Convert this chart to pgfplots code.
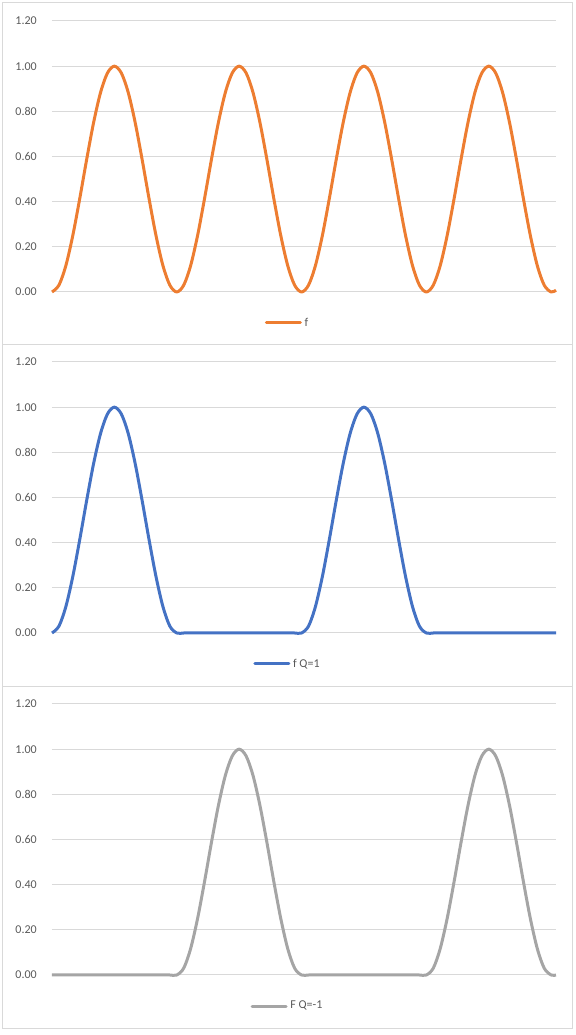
\documentclass[border=0pt]{standalone}
\usepackage{pgfplots}
\usepackage{pgfplotstable}
\pgfplotsset{compat=1.18}
\usepackage{fontspec}
\setmainfont{Carlito}
\definecolor{cOrange}{HTML}{ED7D31}
\definecolor{cBlue}{HTML}{4472C4}
\definecolor{cGray}{HTML}{A5A5A5}
\definecolor{cGrid}{HTML}{D9D9D9}
\definecolor{cText}{HTML}{595959}

\pgfplotstableread{
x f q1 qm1
0 0 0 0
10 0.0302 0.0302 0
20 0.1170 0.1170 0
30 0.2500 0.2500 0
40 0.4132 0.4132 0
50 0.5868 0.5868 0
60 0.7500 0.7500 0
70 0.8830 0.8830 0
80 0.9698 0.9698 0
90 1.0000 1.0000 0
100 0.9698 0.9698 0
110 0.8830 0.8830 0
120 0.7500 0.7500 0
130 0.5868 0.5868 0
140 0.4132 0.4132 0
150 0.2500 0.2500 0
160 0.1170 0.1170 0
170 0.0302 0.0302 0
180 0 0 0
190 0.0302 0 0.0302
200 0.1170 0 0.1170
210 0.2500 0 0.2500
220 0.4132 0 0.4132
230 0.5868 0 0.5868
240 0.7500 0 0.7500
250 0.8830 0 0.8830
260 0.9698 0 0.9698
270 1.0000 0 1.0000
280 0.9698 0 0.9698
290 0.8830 0 0.8830
300 0.7500 0 0.7500
310 0.5868 0 0.5868
320 0.4132 0 0.4132
330 0.2500 0 0.2500
340 0.1170 0 0.1170
350 0.0302 0 0.0302
360 0 0 0
370 0.0302 0.0302 0
380 0.1170 0.1170 0
390 0.2500 0.2500 0
400 0.4132 0.4132 0
410 0.5868 0.5868 0
420 0.7500 0.7500 0
430 0.8830 0.8830 0
440 0.9698 0.9698 0
450 1.0000 1.0000 0
460 0.9698 0.9698 0
470 0.8830 0.8830 0
480 0.7500 0.7500 0
490 0.5868 0.5868 0
500 0.4132 0.4132 0
510 0.2500 0.2500 0
520 0.1170 0.1170 0
530 0.0302 0.0302 0
540 0 0 0
550 0.0302 0 0.0302
560 0.1170 0 0.1170
570 0.2500 0 0.2500
580 0.4132 0 0.4132
590 0.5868 0 0.5868
600 0.7500 0 0.7500
610 0.8830 0 0.8830
620 0.9698 0 0.9698
630 1.0000 0 1.0000
640 0.9698 0 0.9698
650 0.8830 0 0.8830
660 0.7500 0 0.7500
670 0.5868 0 0.5868
680 0.4132 0 0.4132
690 0.2500 0 0.2500
700 0.1170 0 0.1170
710 0.0302 0 0.0302
720 0 0 0
727 0.0080 0 0
}\datatable

\pgfplotsset{
  panel/.style={
    scale only axis,
    width=378pt, height=203.25pt,
    anchor=south west,
    xmin=0, xmax=727, ymin=0, ymax=1.2,
    xtick=\empty,
    ytick={0,0.2,0.4,0.6,0.8,1.0,1.2},
    ymajorgrids,
    major grid style={draw=cGrid, line width=0.75pt},
    axis line style={draw=none},
    tick style={draw=none},
    clip=false,
    /pgf/number format/assume math mode=true,
    yticklabel style={font=\fontsize{9}{11}\selectfont, text=cText, anchor=east, inner sep=0pt, xshift=-11.25pt,
      /pgf/number format/.cd, fixed, fixed zerofill, precision=2},
    legend style={draw=none, fill=none, at={(0.468,-0.1144)}, anchor=center,
      font=\fontsize{9}{11}\selectfont, text=cText, inner sep=0pt},
    legend image code/.code={\draw[#1, line width=2.25pt, line cap=round] (0pt,0pt) -- (25.5pt,0pt);},
    every axis plot/.append style={line width=2.25pt, line join=round, smooth, tension=0.5},
  }
}

\begin{document}
\begin{tikzpicture}
\useasboundingbox (0,0) rectangle (431.25pt,776.25pt);
\draw[cGrid, line width=0.75pt] (1.5pt,774pt) rectangle (429pt,517.7pt);
\draw[cGrid, line width=0.75pt] (1.5pt,517.7pt) rectangle (429pt,261.4pt);
\draw[cGrid, line width=0.75pt] (1.5pt,261.4pt) rectangle (429pt,4.5pt);

\begin{axis}[panel, at={(39pt,557.25pt)}]
\addplot[cOrange] table[x=x, y=f] {\datatable};
\addlegendentry{f}
\end{axis}

\begin{axis}[panel, at={(39pt,301.5pt)}]
\addplot[cBlue] table[x=x, y=q1] {\datatable};
\addlegendentry{f Q=1}
\end{axis}

\begin{axis}[panel, at={(39pt,45pt)}]
\addplot[cGray] table[x=x, y=qm1] {\datatable};
\addlegendentry{F Q=-1}
\end{axis}
\end{tikzpicture}
\end{document}
